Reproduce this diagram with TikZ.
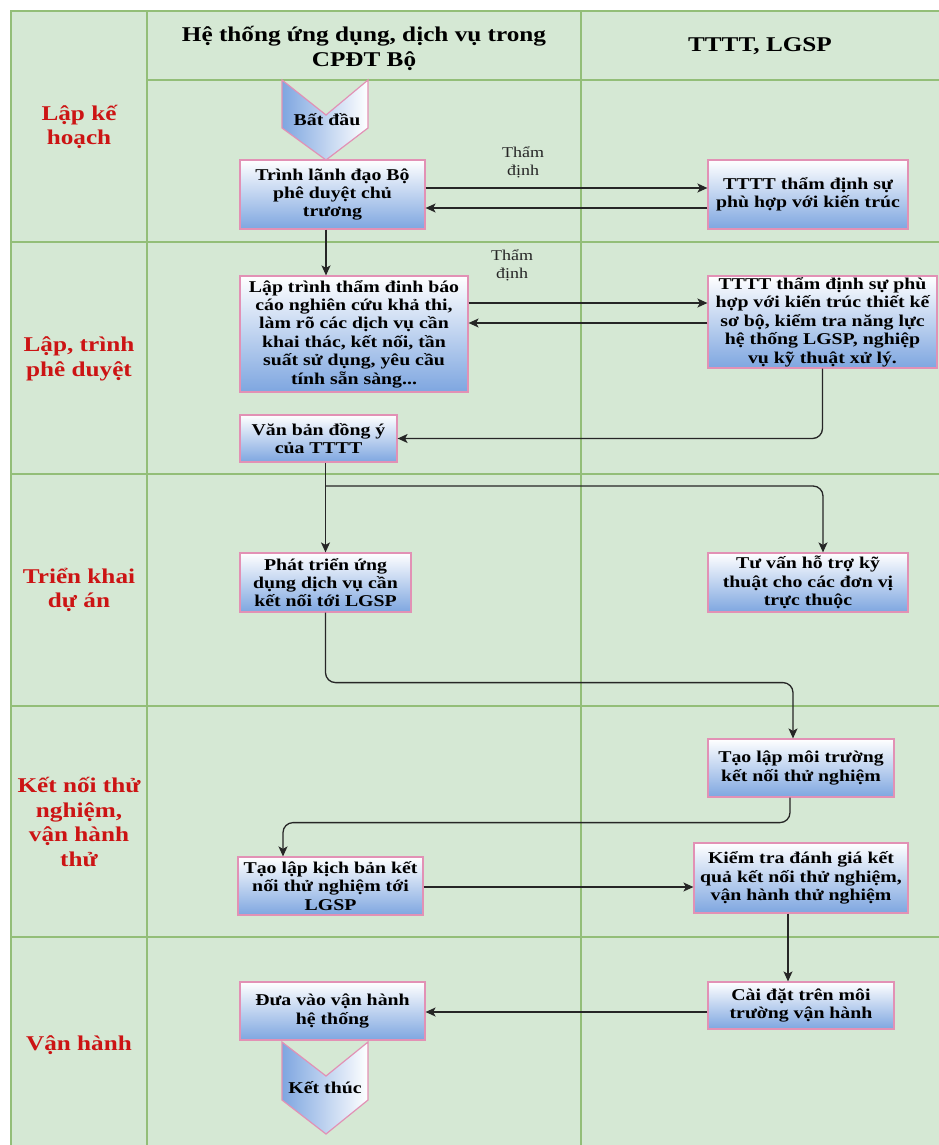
\documentclass[tikz,border=0pt]{standalone}
\usepackage{fontspec}
\setmainfont{Liberation Serif}
\newfontfamily\wideserif[FakeStretch=1.2]{Liberation Serif}
\usetikzlibrary{arrows.meta}

\definecolor{laneFill}{HTML}{D5E8D4}
\definecolor{laneLine}{HTML}{93BE78}
\definecolor{boxBlue}{HTML}{7EA6E0}
\definecolor{boxEdge}{HTML}{E291B5}
\definecolor{phaseRed}{HTML}{CC1414}
\definecolor{wire}{HTML}{262626}

\tikzset{
  grid line/.style={draw=laneLine, line width=1.7pt},
  stepbox/.style={draw=boxEdge, line width=1.2pt, top color=white, bottom color=boxBlue,
    align=center, inner sep=0pt, text=black,
    font=\wideserif\bfseries\fontsize{16.5}{18.4}\selectfont},
  terminal/.style={draw=boxEdge, line width=1.2pt, left color=boxBlue, right color=white},
  termtext/.style={inner sep=0pt, text=black, font=\wideserif\bfseries\fontsize{16.5}{18.4}\selectfont},
  phase/.style={align=center, text=phaseRed, inner sep=0pt,
    font=\wideserif\bfseries\fontsize{21}{24.5}\selectfont},
  lanehead/.style={align=center, text=black, inner sep=0pt,
    font=\wideserif\bfseries\fontsize{21}{25}\selectfont},
  flowlabel/.style={align=center, text=black!85, inner sep=0pt,
    font=\wideserif\fontsize{15}{18}\selectfont},
  flow/.style={draw=wire, line width=1.3pt, -{Stealth[length=10pt,width=9pt,inset=2.5pt]}},
  elbow/.style={rounded corners=10pt}
}

\begin{document}
\begin{tikzpicture}[x=1pt,y=-1pt]
\useasboundingbox (0,0) rectangle (939,1145);
\fill[white] (0,0) rectangle (939,1145);

% swimlane table
\fill[laneFill] (11,11) rectangle (939,1145);
\draw[grid line] (11,1145) -- (11,11) -- (939,11);
\draw[grid line] (147,11) -- (147,1145);
\draw[grid line] (581,11) -- (581,1145);
\draw[grid line] (147,80) -- (939,80);
\foreach \yy in {242,474,706,937} \draw[grid line] (11,\yy) -- (939,\yy);

% lane headers
\node[lanehead] (hdrA) at (364,48) {Hệ thống ứng dụng, dịch vụ trong\\CPĐT Bộ};
\node[lanehead] (hdrB) at (760,46) {TTTT, LGSP};

% phase labels
\node[phase] (ph1) at (79,127) {Lập kế\\hoạch};
\node[phase] (ph2) at (79,359) {Lập, trình\\phê duyệt};
\node[phase] (ph3) at (79,590) {Triển khai\\dự án};
\node[phase] (ph4) at (79,822) {Kết nối thử\\nghiệm,\\vận hành\\thử};
\node[phase] (ph5) at (79,1045) {Vận hành};

% start / end terminals
\path[terminal] (282,80) -- (326,115) -- (368,80) -- (368,128) -- (326,160) -- (282,128) -- cycle;
\node[termtext] (start) at (327,120) {Bất đầu};
\path[terminal] (282,1042) -- (326,1076) -- (368,1042) -- (368,1100) -- (326,1134) -- (282,1100) -- cycle;
\node[termtext] (finish) at (325,1088) {Kết thúc};

% process steps
\node[stepbox, minimum width=185pt, minimum height=69pt] (b1) at (332.5,194.5)
  {Trình lãnh đạo Bộ\\phê duyệt chủ\\trương};
\node[stepbox, minimum width=200pt, minimum height=69pt] (b2) at (808,194.5)
  {TTTT thẩm định sự\\phù hợp với kiến trúc};
\node[stepbox, minimum width=228pt, minimum height=116pt] (b3) at (354,334)
  {Lập trình thẩm đinh báo\\cáo nghiên cứu khả thi,\\làm rõ các dịch vụ cần\\khai thác, kết nối, tần\\suất sử dụng, yêu cầu\\tính sẵn sàng...};
\node[stepbox, minimum width=229pt, minimum height=92pt] (b4) at (822.5,322)
  {TTTT thẩm định sự phù\\hợp với kiến trúc thiết kế\\sơ bộ, kiểm tra năng lực\\hệ thống LGSP, nghiệp\\vụ kỹ thuật xử lý.};
\node[stepbox, minimum width=157pt, minimum height=47pt] (b5) at (318.5,438.5)
  {Văn bản đồng ý\\của TTTT};
\node[stepbox, minimum width=171pt, minimum height=59pt] (b6) at (325.5,582.5)
  {Phát triển ứng\\dụng dịch vụ cần\\kết nối tới LGSP};
\node[stepbox, minimum width=200pt, minimum height=59pt] (b7) at (808,582.5)
  {Tư vấn hỗ trợ kỹ\\thuật cho các đơn vị\\trực thuộc};
\node[stepbox, minimum width=186pt, minimum height=58pt] (b8) at (801,768)
  {Tạo lập môi trường\\kết nối thử nghiệm};
\node[stepbox, minimum width=185pt, minimum height=58pt] (b9) at (330.5,886)
  {Tạo lập kịch bản kết\\nối thử nghiệm tới\\LGSP};
\node[stepbox, minimum width=214pt, minimum height=70pt] (b10) at (801,878)
  {Kiểm tra đánh giá kết\\quả kết nối thử nghiệm,\\vận hành thử nghiệm};
\node[stepbox, minimum width=186pt, minimum height=47pt] (b11) at (801,1005.5)
  {Cài đặt trên môi\\trường vận hành};
\node[stepbox, minimum width=185pt, minimum height=58pt] (b12) at (332.5,1011)
  {Đưa vào vận hành\\hệ thống};

% connector labels
\node[flowlabel] (lbl1) at (523,162) {Thẩm\\định};
\node[flowlabel] (lbl2) at (512,265) {Thẩm\\định};

% connectors
\draw[flow] ([yshift=6.5pt]b1.east) -- ([yshift=6.5pt]b1.east -| b2.west);
\draw[flow] ([yshift=-13.5pt]b2.west) -- ([yshift=-13.5pt]b2.west -| b1.east);
\draw[flow] ([xshift=-6.5pt]b1.south) -- ([xshift=-6.5pt]b1.south |- b3.north);
\draw[flow] ([yshift=31pt]b3.east) -- ([yshift=31pt]b3.east -| b4.west);
\draw[flow] ([yshift=-1pt]b4.west) -- ([yshift=-1pt]b4.west -| b3.east);
\draw[flow, elbow] (b4.south) |- (b5.east);
\draw[flow] (b6.north |- b5.south) -- (b6.north);
\coordinate (split) at (b6.north |- 0,486);
\draw[flow, elbow] (split) -| ([xshift=15pt]b7.north);
\draw[flow, elbow] (b6.south) -- ++(0,70) -| ([xshift=-8pt]b8.north);
\draw[flow, elbow] ([xshift=-11pt]b8.south) -- ++(0,25) -| ([xshift=-47.5pt]b9.north);
\draw[flow] ([yshift=-1pt]b9.east) -- ([yshift=-1pt]b9.east -| b10.west);
\draw[flow] ([xshift=-13pt]b10.south) -- ([xshift=-13pt]b10.south |- b11.north);
\draw[flow] ([yshift=-6.5pt]b11.west) -- ([yshift=-6.5pt]b11.west -| b12.east);
\end{tikzpicture}
\end{document}
